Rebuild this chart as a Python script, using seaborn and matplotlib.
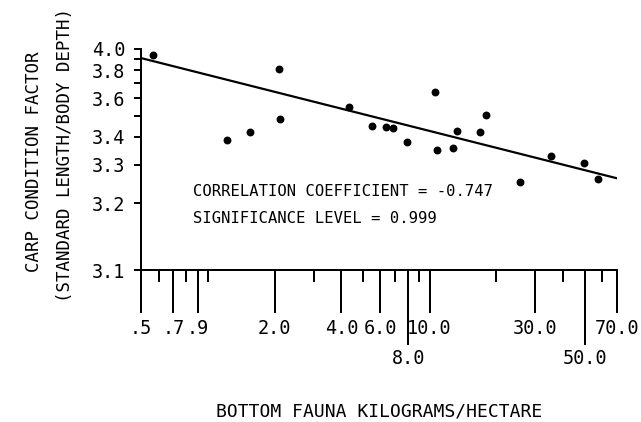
import numpy as np
import pandas as pd
import matplotlib
matplotlib.use('Agg')
import matplotlib.pyplot as plt
import seaborn as sns
from matplotlib.ticker import NullFormatter

# --- data ---
fauna_kg_ha = [0.565, 1.225, 1.551, 2.10, 2.12, 4.35, 5.52, 6.37, 6.87, 7.92,
               10.6, 10.85, 12.77, 13.3, 16.85, 17.9, 25.6, 35.2, 49.8, 57.6]
condition_factor = [3.935, 3.388, 3.421, 3.812, 3.482, 3.546, 3.449, 3.443, 3.441, 3.381,
                    3.636, 3.350, 3.358, 3.426, 3.419, 3.502, 3.250, 3.328, 3.306, 3.259]

# fitted line (end points)
fit_x = [0.5, 70.0]
fit_y = [3.91, 3.26]

x_major = [0.5, 0.7, 0.9, 2.0, 4.0, 6.0, 8.0, 10.0, 30.0, 50.0, 70.0]
x_major_labels = ['.5', '.7', '.9', '2.0', '4.0', '6.0', '8.0', '10.0', '30.0', '50.0', '70.0']
x_low_row = [8.0, 50.0]  # these labels sit on a second row
x_minor = [0.6, 0.8, 1.0, 3.0, 5.0, 7.0, 9.0, 20.0, 40.0, 60.0]

y_major = [3.1, 3.2, 3.3, 3.4, 3.6, 3.8, 4.0]
y_major_labels = ['3.1', '3.2', '3.3', '3.4', '3.6', '3.8', '4.0']
y_minor = [3.5, 3.7, 3.9]

corr_text = 'CORRELATION COEFFICIENT = -0.747'
sig_text = 'SIGNIFICANCE LEVEL = 0.999'

df = pd.DataFrame({'fauna': fauna_kg_ha, 'cf': condition_factor})
fit = pd.DataFrame({'fauna': fit_x, 'cf': fit_y})

sns.set_theme(style='ticks', rc={'axes.edgecolor': 'black', 'xtick.color': 'black',
                                 'ytick.color': 'black', 'text.color': 'black',
                                 'axes.labelcolor': 'black', 'axes.linewidth': 2})
plt.rcParams['font.family'] = ['DejaVu Sans Mono', 'DejaVu Sans']

# dpi 72 -> 1 pt == 1 px
fig = plt.figure(figsize=(641 / 72, 422 / 72), dpi=72)
ax = fig.add_axes([141 / 641, 152 / 422, 476 / 641, 221 / 422])


# y axis is logarithmic in (y - 3)
def fwd(v):
    return np.log10(np.maximum(np.asarray(v, dtype=float) - 3.0, 1e-6))


def inv(v):
    return 10 ** np.asarray(v, dtype=float) + 3.0


ax.set_xscale('log')
ax.set_yscale('function', functions=(fwd, inv))

sns.lineplot(data=fit, x='fauna', y='cf', color='black', linewidth=2.2, ax=ax, zorder=2)
sns.scatterplot(data=df, x='fauna', y='cf', color='black', s=62, linewidth=0,
                ax=ax, zorder=3)

ax.set_xlim(0.5, 70)
ax.set_ylim(3.1, 4.0)
sns.despine(ax=ax)
ax.set_xlabel('')
ax.set_ylabel('')

ax.set_xticks(x_major, labels=x_major_labels)
ax.set_xticks(x_minor, minor=True)
ax.xaxis.set_minor_formatter(NullFormatter())
ax.set_yticks(y_major, labels=y_major_labels)
ax.set_yticks(y_minor, minor=True)
ax.yaxis.set_minor_formatter(NullFormatter())

ax.tick_params(axis='x', which='major', length=43, width=2, pad=6, labelsize=18.5)
ax.tick_params(axis='x', which='minor', length=12, width=2)
ax.tick_params(axis='y', which='both', length=7, width=2, pad=9, labelsize=18.5)

# longer ticks with labels on a lower row for 8.0 and 50.0
for tick, val in zip(ax.xaxis.get_major_ticks(), x_major):
    if val in x_low_row:
        tick.set_pad(36)
        tick.tick1line.set_markersize(75)

ax.text(0.109, 0.335, corr_text, transform=ax.transAxes, fontsize=15.5, va='baseline')
ax.text(0.109, 0.213, sig_text, transform=ax.transAxes, fontsize=15.5, va='baseline')

fig.text(379 / 641, 1 - 416 / 422, 'BOTTOM FAUNA KILOGRAMS/HECTARE', fontsize=18,
         ha='center', va='baseline')
fig.text(34 / 641, 1 - 162 / 422, 'CARP CONDITION FACTOR', fontsize=17.5,
         rotation=90, ha='center', va='center')
fig.text(65 / 641, 1 - 155 / 422, '(STANDARD LENGTH/BODY DEPTH)', fontsize=17.5,
         rotation=90, ha='center', va='center')

fig.savefig('out.png', dpi=72, facecolor='white')
